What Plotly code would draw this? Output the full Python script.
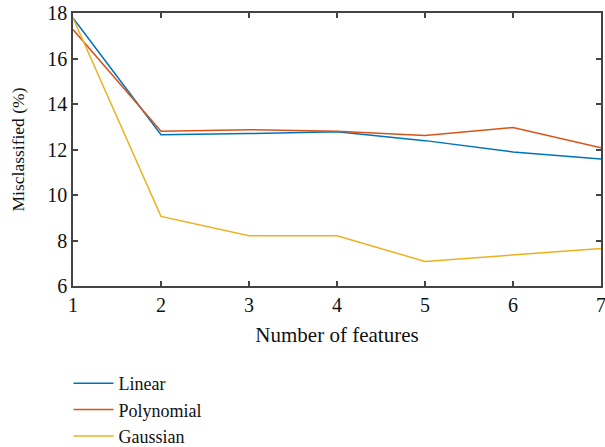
import plotly.graph_objects as go

features = [1, 2, 3, 4, 5, 6, 7]
linear = [17.78, 12.65, 12.70, 12.78, 12.39, 11.89, 11.58]
polynomial = [17.27, 12.80, 12.87, 12.80, 12.62, 12.97, 12.08]
gaussian = [17.78, 9.06, 8.21, 8.21, 7.08, 7.36, 7.65]

names = ["Linear", "Polynomial", "Gaussian"]
colors = ["#0072BD", "#D95319", "#EDB120"]
series = [linear, polynomial, gaussian]

font = "Liberation Serif"
fig = go.Figure()
for n, c, s in zip(names, colors, series):
    fig.add_trace(go.Scatter(x=features, y=s, mode="lines", name=n,
                             line=dict(color=c, width=1.5)))

axis_common = dict(showline=True, linecolor="#444444", linewidth=1.5, mirror="ticks",
                   ticks="inside", ticklen=5, tickcolor="#444444", tickwidth=1.5,
                   showgrid=False, zeroline=False, automargin=False,
                   ticklabeloverflow="allow",
                   tickfont=dict(family=font, size=20, color="#111111"))
fig.update_xaxes(range=[1, 7], dtick=1, title=dict(text="Number of features",
                 font=dict(family=font, size=21, color="#111111"), standoff=13), **axis_common)
fig.update_yaxes(range=[6, 18], dtick=2, title=dict(text="Misclassified (%)",
                 font=dict(family=font, size=17.5, color="#111111"), standoff=18), **axis_common)

fig.update_layout(width=605, height=447, margin=dict(l=73, r=4, t=13, b=161),
                  plot_bgcolor="white", paper_bgcolor="white",
                  font=dict(family=font, size=18, color="#111111"),
                  legend=dict(x=-0.0085, xanchor="left", xref="paper",
                              y=0.1834, yanchor="top", yref="container",
                              bgcolor="rgba(0,0,0,0)", tracegroupgap=0, itemwidth=40,
                              font=dict(family=font, size=18)),
                  showlegend=True)
fig.write_html("out.html", config={"displayModeBar": False},
               post_script="document.body.style.margin='0';document.body.style.overflow='hidden';")
